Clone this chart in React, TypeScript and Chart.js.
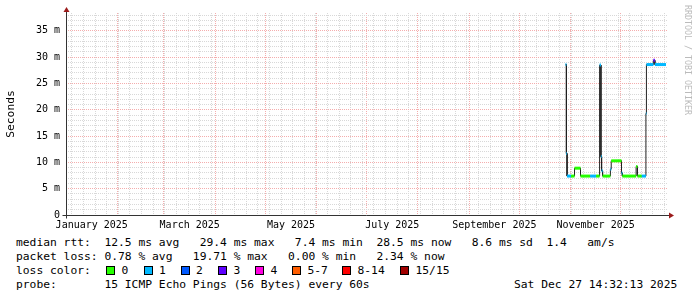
import React, { useEffect, useRef } from 'react';
import { Chart, registerables } from 'chart.js';

Chart.register(...registerables);

// ---- data (x = days since 2025-01-01 00:00, y = median RTT in ms) ----
const stepStartDays = [300.9, 301.4, 301.8, 304.2, 306.3, 309.9, 315.7, 319.3, 321.4, 322.2, 322.6, 323.2, 327.9, 328.4, 334.6, 335.1, 343.4, 344.2, 346.8, 349.3, 349.6, 353.8, 354.7];
const stepEndDay = 361.4;
const medianRttMs = [28.6, 11.7, 7.4, 7.4, 8.9, 7.4, 7.4, 7.4, 28.5, 11.1, 8.4, 7.4, 8.7, 10.3, 8.0, 7.4, 9.2, 7.4, 7.4, 19.3, 28.6, 29.4, 28.6];
const lossBucket = [1, 1, 1, 0, 0, 0, 1, 0, 1, 1, 1, 0, 1, 0, 1, 0, 0, 0, 1, 1, 1, 3, 1];

const lossColors = ['#26ff00', '#00b8ff', '#0059ff', '#5e00ff', '#ff00e1', '#ff5e00', '#ff0000', '#a10000'];
const lossLabels = ['0', '1', '2', '3', '4', '5-7', '8-14', '15/15'];

// ---- axis ticks ----
const xMinDay = 0;
const xMaxDay = 362.6;
const monthStartDays = [0, 31, 59, 90, 120, 151, 181, 212, 243, 273, 304, 334];
const monthLabels = ['January 2025', 'March 2025', 'May 2025', 'July 2025', 'September 2025', 'November 2025'];
const monthLabelDays = [15.5, 74.5, 135.5, 196.5, 258, 319];
const firstWeekDay = 3.5;
const yMaxMs = 38.4;
const yTickValues = Array.from({ length: 39 }, (_, i) => i);

// ---- legend text ----
const rttStats = 'median rtt:  12.5 ms avg   29.4 ms max   7.4 ms min  28.5 ms now   8.6 ms sd  1.4   am/s';
const lossStats = 'packet loss: 0.78 % avg   19.71 % max   0.00 % min   2.34 % now';
const probeText = 'probe:       15 ICMP Echo Pings (56 Bytes) every 60s';
const dateText = 'Sat Dec 27 14:32:13 2025';

const GREY = '#d8d8d8';
const RED = '#f4adad';
const FONT = '"DejaVu Sans Mono", monospace';

function buildPoints() {
  const pts: { x: number; y: number }[] = [];
  for (let i = 0; i < stepStartDays.length; i++) {
    const end = i + 1 < stepStartDays.length ? stepStartDays[i + 1] : stepEndDay;
    pts.push({ x: stepStartDays[i], y: medianRttMs[i] });
    pts.push({ x: end, y: medianRttMs[i] });
  }
  return pts;
}

const axesPlugin = {
  id: 'rrdAxes',
  afterDatasetsDraw(chart: any) {
    const { ctx, chartArea: a, scales } = chart;
    const y0 = Math.round(scales.y.getPixelForValue(0)) + 0.5;
    const x0 = Math.round(scales.x.getPixelForValue(xMinDay)) + 0.5;
    ctx.save();
    ctx.strokeStyle = '#333333';
    ctx.lineWidth = 1;
    ctx.setLineDash([]);
    ctx.beginPath();
    ctx.moveTo(x0 - 4, y0);
    ctx.lineTo(a.right + 2, y0);
    ctx.moveTo(x0, y0 + 3);
    ctx.lineTo(x0, a.top - 2);
    ctx.stroke();
    ctx.fillStyle = '#9b1b1b';
    ctx.beginPath();
    ctx.moveTo(x0 - 3, a.top - 1);
    ctx.lineTo(x0 + 3, a.top - 1);
    ctx.lineTo(x0, a.top - 6);
    ctx.closePath();
    ctx.fill();
    ctx.beginPath();
    ctx.moveTo(a.right + 1, y0 - 3);
    ctx.lineTo(a.right + 1, y0 + 3);
    ctx.lineTo(a.right + 6, y0);
    ctx.closePath();
    ctx.fill();
    ctx.restore();
  },
};

export default function App() {
  const ref = useRef<HTMLCanvasElement>(null);

  useEffect(() => {
    const pts = buildPoints();
    const chart = new Chart(ref.current as HTMLCanvasElement, {
      type: 'line',
      data: {
        datasets: [
          {
            data: pts,
            borderColor: lossColors[0],
            borderWidth: 3,
            pointRadius: 0,
            tension: 0,
            segment: {
              borderColor: (c: any) => {
                const i = c.p0DataIndex;
                if (i % 2 === 1) return 'rgba(0,0,0,0)';
                return lossColors[lossBucket[i / 2]];
              },
            },
          },
          {
            data: pts,
            borderColor: '#202020',
            borderWidth: 1,
            pointRadius: 0,
            tension: 0,
          },
        ],
      },
      options: {
        responsive: false,
        animation: false,
        devicePixelRatio: 1,
        layout: { padding: { top: 13, right: 29, left: 0, bottom: 0 } },
        plugins: { legend: { display: false }, tooltip: { enabled: false } },
        scales: {
          x: {
            type: 'linear',
            min: xMinDay,
            max: xMaxDay,
            afterBuildTicks: (s: any) => {
              const t: any[] = [];
              for (let d = firstWeekDay; d <= xMaxDay; d += 7) t.push({ value: d, kind: 'week' });
              monthStartDays.forEach((d) => t.push({ value: d, kind: 'month' }));
              monthLabelDays.forEach((d, i) => t.push({ value: d, kind: 'label', text: monthLabels[i] }));
              t.sort((p, q) => p.value - q.value);
              s.ticks = t;
            },
            afterFit: (s: any) => {
              s.height = 20;
              s.paddingLeft = 0;
              s.paddingRight = 0;
              s.paddingTop = 0;
              s.paddingBottom = 0;
            },
            grid: {
              drawTicks: false,
              lineWidth: 1,
              color: (c: any) => {
                const k = c.tick && c.tick.kind;
                if (k === 'month') return c.tick.value === 0 ? 'rgba(0,0,0,0)' : RED;
                if (k === 'week') return GREY;
                return 'rgba(0,0,0,0)';
              },
            },
            border: { display: false, dash: [1, 1] },
            ticks: {
              autoSkip: false,
              maxRotation: 0,
              minRotation: 0,
              padding: 4,
              color: '#000',
              font: { family: FONT, size: 10 },
              callback: (_v: any, i: number, ticks: any[]) => (ticks[i].kind === 'label' ? ticks[i].text : ''),
            },
          },
          y: {
            type: 'linear',
            min: 0,
            max: yMaxMs,
            afterBuildTicks: (s: any) => {
              s.ticks = yTickValues.map((v) => ({ value: v }));
            },
            afterFit: (s: any) => {
              s.width = 66;
              s.paddingLeft = 0;
              s.paddingRight = 0;
              s.paddingTop = 0;
              s.paddingBottom = 0;
            },
            grid: {
              drawTicks: false,
              lineWidth: 1,
              color: (c: any) => {
                const v = c.tick ? c.tick.value : -1;
                if (v <= 0) return 'rgba(0,0,0,0)';
                return v % 5 === 0 ? RED : GREY;
              },
            },
            border: { display: false, dash: [1, 1] },
            ticks: {
              autoSkip: false,
              padding: 6,
              color: '#000',
              font: { family: FONT, size: 10 },
              callback: (v: any) => {
                const n = Number(v);
                if (n % 5 !== 0) return '';
                return n === 0 ? '0' : `${n} m`;
              },
            },
            title: {
              display: true,
              text: 'Seconds',
              color: '#000',
              padding: { top: 4, bottom: 0 },
              font: { family: FONT, size: 11.3, weight: 'normal' },
            },
          },
        },
      },
      plugins: [axesPlugin],
    } as any);
    return () => chart.destroy();
  }, []);

  const line = (top: number, left: number, text: string, extra: any = {}) => (
    <div
      style={{
        position: 'absolute',
        top,
        left,
        height: 14,
        lineHeight: '14px',
        fontSize: '11.3px',
        whiteSpace: 'pre',
        color: '#000',
        ...extra,
      }}
    >
      {text}
    </div>
  );

  const boxLefts = [106, 143.5, 180.5, 218, 255, 292, 342, 400];

  return (
    <div
      style={{
        position: 'fixed',
        left: 0,
        top: 0,
        width: 697,
        height: 297,
        background: '#fff',
        overflow: 'hidden',
        fontFamily: FONT,
      }}
    >
      <canvas ref={ref} width={697} height={235} style={{ position: 'absolute', left: 0, top: 0, width: 697, height: 235 }} />
      <div
        style={{
          position: 'absolute',
          left: 683,
          top: 5,
          writingMode: 'vertical-rl',
          fontSize: '8.3px',
          lineHeight: '10px',
          color: '#bbbbbb',
          whiteSpace: 'pre',
        }}
      >
        RRDTOOL / TOBI OETIKER
      </div>
      {line(236, 16, rttStats)}
      {line(250, 16, lossStats)}
      {line(264, 16, 'loss color:')}
      {lossLabels.map((lab, i) => (
        <React.Fragment key={lab}>
          <div
            style={{
              position: 'absolute',
              left: boxLefts[i],
              top: 266,
              width: 7,
              height: 7,
              background: lossColors[i],
              border: '1px solid #000',
            }}
          />
          {line(264, boxLefts[i] + 15.5, lab)}
        </React.Fragment>
      ))}
      {line(278, 16, probeText)}
      {line(278, 514, dateText)}
    </div>
  );
}
